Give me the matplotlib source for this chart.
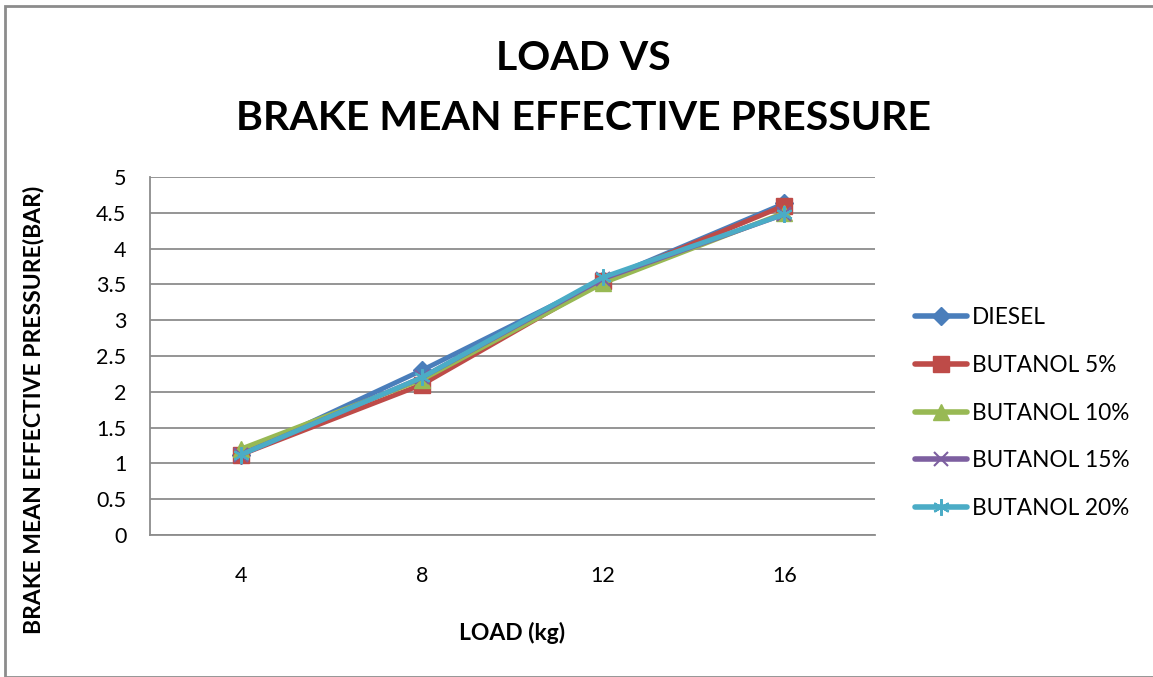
import matplotlib
matplotlib.use("Agg")
import matplotlib.pyplot as plt
from matplotlib.patches import Rectangle

plt.rcParams['font.family'] = ['Lato', 'DejaVu Sans']

loads = ["4", "8", "12", "16"]
diesel = [1.12, 2.30, 3.56, 4.63]
butanol5 = [1.12, 2.10, 3.55, 4.60]
butanol10 = [1.20, 2.17, 3.52, 4.50]
butanol15 = [1.12, 2.20, 3.58, 4.48]
butanol20 = [1.12, 2.20, 3.60, 4.48]

series = [
    ("DIESEL", diesel, "#4A7EBB", "D", 9),
    ("BUTANOL 5%", butanol5, "#BE4B48", "s", 11),
    ("BUTANOL 10%", butanol10, "#98B954", "^", 11),
    ("BUTANOL 15%", butanol15, "#7D5FA0", "x", 10),
    ("BUTANOL 20%", butanol20, "#4BACC6", (6, 2, 0), 12),
]

W, H = 1153, 677
fig = plt.figure(figsize=(W / 100, H / 100), dpi=100)
fig.patch.set_facecolor("white")
fig.add_artist(Rectangle((5 / W, 0), 1 - 5 / W + 0.01, 1 - 6 / H, transform=fig.transFigure,
                         fill=False, edgecolor="#8C8C8C", linewidth=2))

ax = fig.add_axes([150 / W, 1 - 535 / H, 725 / W, 358 / H])
x = range(len(loads))
for name, vals, color, marker, ms in series:
    ax.plot(x, vals, color=color, linewidth=3.5, marker=marker, markersize=ms,
            markeredgecolor=color, markerfacecolor=color,
            markeredgewidth=1.5 if marker in ("x", (6, 2, 0)) else 1,
            label=name, solid_capstyle="round")

ax.set_xlim(-0.5, len(loads) - 0.5)
ax.set_ylim(0, 5)
ax.set_yticks([i * 0.5 for i in range(11)])
ax.set_yticklabels(["0", "0.5", "1", "1.5", "2", "2.5", "3", "3.5", "4", "4.5", "5"])
ax.set_xticks(list(x))
ax.set_xticklabels(loads)
ax.tick_params(axis="both", length=0, labelsize=15.5)
ax.tick_params(axis="y", pad=17)
ax.tick_params(axis="x", pad=22)
ax.grid(axis="y", color="#8C8C8C", linewidth=1.3)
ax.set_axisbelow(True)
for s in ("top", "right"):
    ax.spines[s].set_visible(False)
for s in ("left", "bottom"):
    ax.spines[s].set_color("#8C8C8C")
    ax.spines[s].set_linewidth(1.3)

ax.set_xlabel("LOAD (kg)", fontsize=16.5, fontweight="bold")
ax.xaxis.set_label_coords((512 - 150) / 725, -(622 - 535) / 358)
ax.set_ylabel("BRAKE MEAN EFFECTIVE PRESSURE(BAR)", fontsize=16.5, fontweight="bold")
ax.yaxis.set_label_coords(-(150 - 44) / 725, (535 - 410) / 358)

fig.text(583 / W, 1 - 58 / H, "LOAD VS", ha="center", va="center", fontsize=29.5, fontweight="bold")
fig.text(583 / W, 1 - 118 / H, "BRAKE MEAN EFFECTIVE PRESSURE", ha="center", va="center",
         fontsize=29.5, fontweight="bold")

leg = ax.legend(loc="center left", bbox_to_anchor=(906 / W, 1 - 413 / H), bbox_transform=fig.transFigure,
                frameon=False, fontsize=16.3, handlelength=2.3, handletextpad=0.2, labelspacing=1.18,
                borderaxespad=0)
for line in leg.get_lines():
    line.set_linewidth(4)

fig.savefig("out.png", dpi=100, facecolor="white")
